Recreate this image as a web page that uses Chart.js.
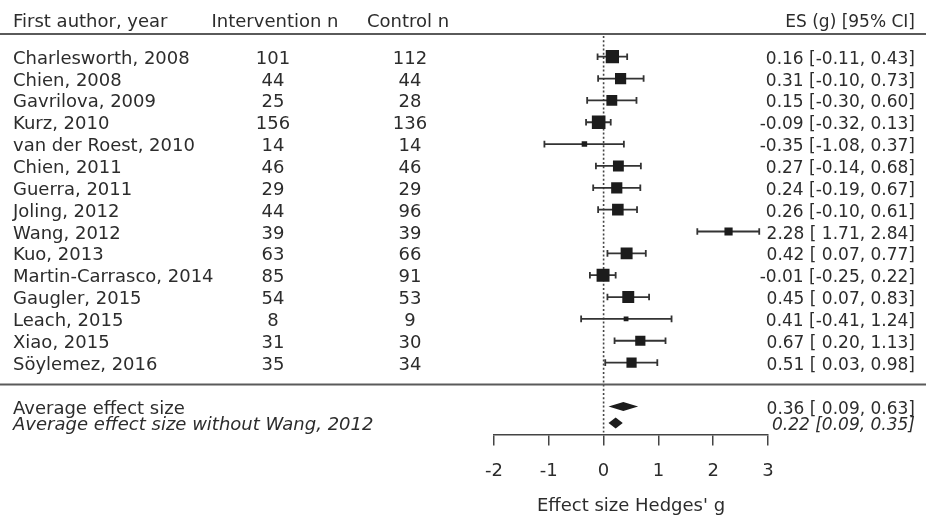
<!DOCTYPE html>
<html><head><meta charset="utf-8">
<script src="https://cdn.jsdelivr.net/npm/chart.js@4/dist/chart.umd.min.js"></script>
<style>html,body{margin:0;padding:0;background:#fff;} canvas{display:block;}</style>
</head><body>
<canvas id="c" width="926" height="522"></canvas>
<script>
// ---- data ----
const studies = ["Charlesworth, 2008","Chien, 2008","Gavrilova, 2009","Kurz, 2010","van der Roest, 2010","Chien, 2011","Guerra, 2011","Joling, 2012","Wang, 2012","Kuo, 2013","Martin-Carrasco, 2014","Gaugler, 2015","Leach, 2015","Xiao, 2015","Söylemez, 2016"];
const interventionN = [101,44,25,156,14,46,29,44,39,63,85,54,8,31,35];
const controlN = [112,44,28,136,14,46,29,96,39,66,91,53,9,30,34];
const effectSize = [0.16,0.31,0.15,-0.09,-0.35,0.27,0.24,0.26,2.28,0.42,-0.01,0.45,0.41,0.67,0.51];
const ciLow = [-0.11,-0.10,-0.30,-0.32,-1.08,-0.14,-0.19,-0.10,1.71,0.07,-0.25,0.07,-0.41,0.20,0.03];
const ciHigh = [0.43,0.73,0.60,0.13,0.37,0.68,0.67,0.61,2.84,0.77,0.22,0.83,1.24,1.13,0.98];
const weightPct = [10.0,7.1,6.7,10.5,1.7,6.7,7.1,7.6,3.8,8.1,9.5,8.1,1.3,5.9,5.9];
const summaryLabels = ["Average effect size","Average effect size without Wang, 2012"];
const summaryES = [0.36,0.22];
const summaryLow = [0.09,0.09];
const summaryHigh = [0.63,0.35];
const headers = ["First author, year","Intervention n","Control n","ES (g) [95% CI]"];
const xTicks = [-2,-1,0,1,2,3];
const axisTitle = "Effect size Hedges' g";

// ---- styling ----
const FONT = '"DejaVu Sans", sans-serif';
const FS = 18;
const FS_ES = 17;
const TXT = '#2c2c2c';
const MARK = '#1c1c1c';
const summaryRows = [16.01, 16.76];
const summaryHalfH = [4.5, 5.5];

function ciText(v, lo, hi, pad) {
  return v.toFixed(2) + ' [' + (pad && lo >= 0 ? ' ' : '') + lo.toFixed(2) + ', ' + hi.toFixed(2) + ']';
}

const forestPlugin = {
  id: 'forest',
  beforeDatasetsDraw(chart) {
    const {ctx, chartArea, scales: {x, y}} = chart;
    ctx.save();
    // zero reference line
    const x0 = x.getPixelForValue(0);
    ctx.strokeStyle = '#444'; ctx.lineWidth = 1.6; ctx.setLineDash([2, 2.2]);
    ctx.beginPath(); ctx.moveTo(x0, chartArea.top + 2); ctx.lineTo(x0, chartArea.bottom - 2); ctx.stroke();
    ctx.setLineDash([]);
    // rules
    ctx.strokeStyle = '#5a5a5a'; ctx.lineWidth = 2;
    ctx.beginPath(); ctx.moveTo(0, chartArea.top); ctx.lineTo(chart.width, chartArea.top); ctx.stroke();
    const ys = y.getPixelForValue(15);
    ctx.beginPath(); ctx.moveTo(0, ys); ctx.lineTo(chart.width, ys); ctx.stroke();
    // confidence intervals
    ctx.strokeStyle = '#333'; ctx.lineWidth = 1.8;
    for (let i = 0; i < studies.length; i++) {
      const py = y.getPixelForValue(i);
      const a = x.getPixelForValue(ciLow[i]), b = x.getPixelForValue(ciHigh[i]);
      ctx.beginPath();
      ctx.moveTo(a, py); ctx.lineTo(b, py);
      ctx.moveTo(a, py - 3.3); ctx.lineTo(a, py + 3.3);
      ctx.moveTo(b, py - 3.3); ctx.lineTo(b, py + 3.3);
      ctx.stroke();
    }
    ctx.restore();
  },
  afterDatasetsDraw(chart) {
    const {ctx, chartArea, scales: {x, y}} = chart;
    ctx.save();
    // summary diamonds
    ctx.fillStyle = MARK;
    for (let k = 0; k < summaryES.length; k++) {
      const py = y.getPixelForValue(summaryRows[k]);
      const l = x.getPixelForValue(summaryLow[k]), m = x.getPixelForValue(summaryES[k]), r = x.getPixelForValue(summaryHigh[k]);
      const h = summaryHalfH[k];
      ctx.beginPath();
      ctx.moveTo(l, py); ctx.lineTo(m, py - h); ctx.lineTo(r, py); ctx.lineTo(m, py + h); ctx.closePath();
      ctx.fill();
    }
    // text table
    ctx.fillStyle = TXT;
    ctx.textBaseline = 'alphabetic';
    const f = (s, it) => (it ? 'italic ' : '') + s + 'px ' + FONT;
    const hy = chartArea.top - 7.5;
    ctx.font = f(FS);
    ctx.textAlign = 'left'; ctx.fillText(headers[0], 13, hy);
    ctx.textAlign = 'center'; ctx.fillText(headers[1], 275, hy); ctx.fillText(headers[2], 408, hy);
    ctx.font = f(FS_ES);
    ctx.textAlign = 'right'; ctx.fillText(headers[3], 915, hy);
    for (let i = 0; i < studies.length; i++) {
      const by = y.getPixelForValue(i) + 7;
      ctx.font = f(FS);
      ctx.textAlign = 'left'; ctx.fillText(studies[i], 13, by);
      ctx.textAlign = 'center';
      ctx.fillText(String(interventionN[i]), 273, by);
      ctx.fillText(String(controlN[i]), 410, by);
      ctx.font = f(FS_ES);
      ctx.textAlign = 'right';
      ctx.fillText(ciText(effectSize[i], ciLow[i], ciHigh[i], true), 915, by);
    }
    for (let k = 0; k < summaryES.length; k++) {
      const by = y.getPixelForValue(summaryRows[k]) + 7;
      ctx.font = f(FS, k === 1);
      ctx.textAlign = 'left'; ctx.fillText(summaryLabels[k], 13, by);
      ctx.font = f(FS_ES, k === 1);
      ctx.textAlign = 'right'; ctx.fillText(ciText(summaryES[k], summaryLow[k], summaryHigh[k], k === 0), 915, by);
    }
    ctx.restore();
  }
};

new Chart(document.getElementById('c'), {
  type: 'scatter',
  data: {
    datasets: [{
      data: effectSize.map((v, i) => ({x: v, y: i})),
      pointStyle: 'rect',
      pointRadius: weightPct.map(w => 4.2 * Math.sqrt(w) / Math.SQRT2),
      backgroundColor: MARK,
      borderWidth: 0
    }]
  },
  options: {
    responsive: false,
    animation: false,
    devicePixelRatio: 1,
    events: [],
    layout: {padding: {left: 494, right: 158, top: 34, bottom: 0}},
    plugins: {legend: {display: false}, tooltip: {enabled: false}},
    scales: {
      x: {
        type: 'linear', min: -2, max: 3,
        afterBuildTicks: (s) => { s.ticks = xTicks.map(v => ({value: v})); },
        afterFit: (s) => { s.height = 87.5; },
        grid: {drawOnChartArea: false, drawTicks: true, tickLength: 11, color: '#444', lineWidth: 1.5},
        border: {display: true, color: '#444', width: 1.5},
        ticks: {color: TXT, font: {family: FONT, size: FS}, padding: 15, maxRotation: 0},
        title: {display: true, text: axisTitle, color: TXT, font: {family: FONT, size: FS}, padding: {top: 0, bottom: 5}}
      },
      y: {
        type: 'linear', reverse: true, min: -1.039, max: 17.29, display: false
      }
    }
  },
  plugins: [forestPlugin]
});
</script>
</body></html>
